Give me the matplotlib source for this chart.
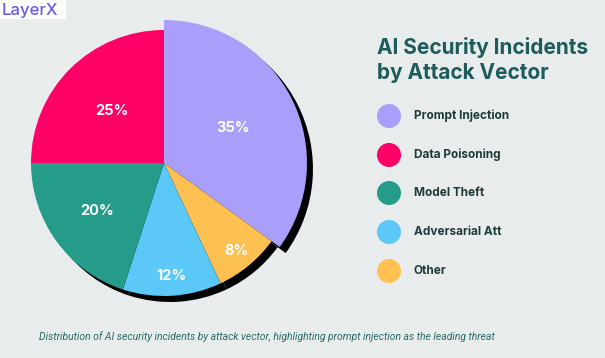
import numpy as np
import matplotlib.pyplot as plt
from matplotlib.patches import Wedge, Rectangle, Circle
import matplotlib.transforms as mtransforms

categories = ['Prompt Injection', 'Data Poisoning', 'Model Theft', 'Adversarial Att', 'Other']
shares = [35, 25, 20, 12, 8]
colors = ['#A99FFB', '#FF0066', '#259B8A', '#5BC8F8', '#FFC052']

# pie is drawn clockwise from the top: Prompt, Other, Adversarial, Model, Data
pie_order = [0, 4, 3, 2, 1]
label_dist = {0: 0.58, 1: 0.55, 2: 0.62, 3: 0.85, 4: 0.86}

bg = '#E8ECED'
W, H = 605, 358
fig = plt.figure(figsize=(W / 100, H / 100), dpi=100, facecolor=bg)

# pie axes: center (164,163) px, radius 133 px
cx, cy, r = 164, 163, 133
half = 155
ax = fig.add_axes([(cx - half) / W, (H - cy - half) / H, 2 * half / W, 2 * half / H])

vals = [shares[i] for i in pie_order]
cols = [colors[i] for i in pie_order]
wedges, _ = ax.pie(vals, colors=cols, startangle=90, counterclock=False,
                   radius=1.0, center=(0, 0), frame=True,
                   wedgeprops=dict(linewidth=0))
ax.set_xlim(-half / r, half / r)
ax.set_ylim(-half / r, half / r)
ax.axis('off')
wedges[0].set_radius(1.075)

# black shadow behind the pie, offset down-right
off = mtransforms.ScaledTranslation(6 / 100, -6 / 100, fig.dpi_scale_trans)
for w in wedges:
    sh = Wedge(w.center, w.r, w.theta1, w.theta2, facecolor='black',
               linewidth=0, transform=ax.transData + off, zorder=w.get_zorder() - 0.5)
    ax.add_patch(sh)

for w, idx in zip(wedges, pie_order):
    ang = np.deg2rad((w.theta1 + w.theta2) / 2)
    d = label_dist[idx]
    ax.text(d * np.cos(ang), d * np.sin(ang), f'{shares[idx]}%', color='white',
            fontsize=10.5, fontweight='bold', family=['Inter', 'DejaVu Sans'],
            ha='center', va='center', zorder=5)

# logo
fig.patches.append(Rectangle((0, 1 - 19 / H), 66 / W, 19 / H, transform=fig.transFigure,
                             facecolor='white', edgecolor='none'))
fig.text(2 / W, 1 - 10 / H, 'LayerX', color='#6A5AE0', fontsize=12, fontweight='medium',
         family=['Inter', 'DejaVu Sans'], ha='left', va='center')

# title
title_col = '#1D5C5A'
fig.text(377 / W, 1 - 47 / H, 'AI Security Incidents', color=title_col, fontsize=15,
         fontweight='bold', family=['Inter', 'DejaVu Sans'], ha='left', va='center')
fig.text(377 / W, 1 - 73 / H, 'by Attack Vector', color=title_col, fontsize=15,
         fontweight='bold', family=['Inter', 'DejaVu Sans'], ha='left', va='center')

# legend
leg_y = [116, 155, 193, 232, 271]
for name, c, y in zip(categories, colors, leg_y):
    fig.patches.append(Circle((389 / 100, (H - y) / 100), 12 / 100,
                              transform=fig.dpi_scale_trans,
                              facecolor=c, edgecolor='none'))
    fig.text(414 / W, 1 - y / H, name, color='#1E3A3A', fontsize=8.5, fontweight='bold',
             family=['Inter', 'DejaVu Sans'], ha='left', va='center')

fig.text(267 / W, 1 - 337 / H,
         'Distribution of AI security incidents by attack vector, highlighting prompt injection as the leading threat',
         color='#2A6B69', fontsize=7.5, style='italic', family=['Roboto', 'DejaVu Sans'],
         ha='center', va='center')

fig.savefig('out.png', dpi=100, facecolor=bg)
